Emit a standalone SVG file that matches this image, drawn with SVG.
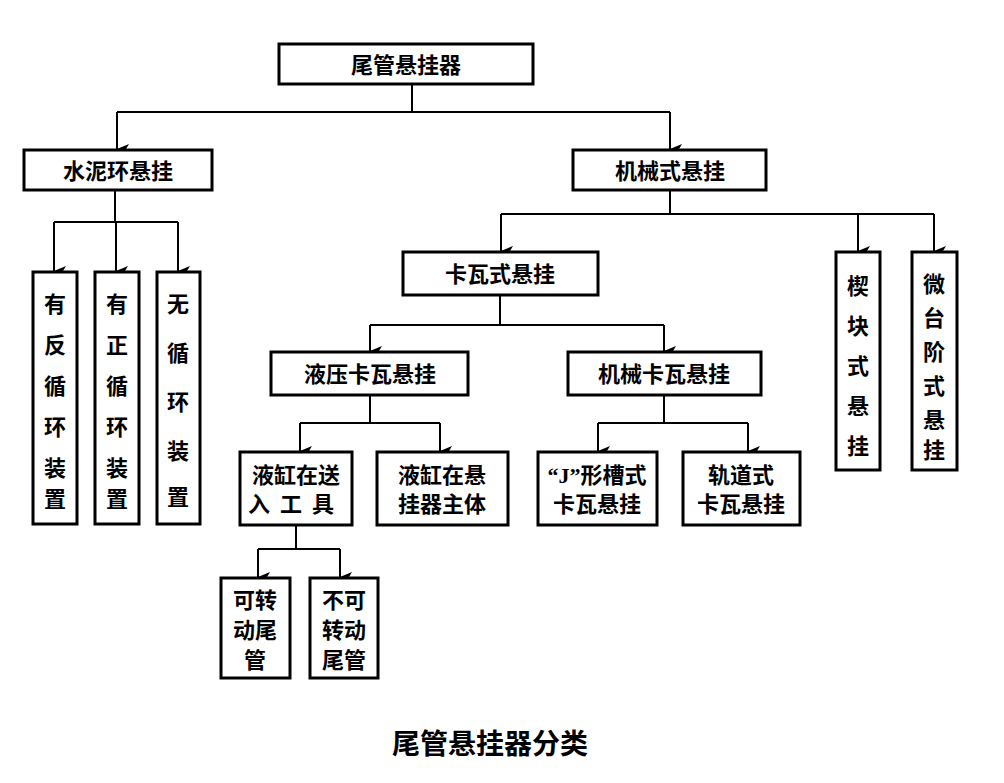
<svg xmlns="http://www.w3.org/2000/svg" width="1004" height="783" viewBox="0 0 1004 783">
<style>
.b{fill:#fff;stroke:#000;stroke-width:3}
.t{font-family:"Noto Sans CJK SC","Liberation Sans",sans-serif;font-weight:bold;font-size:22px;fill:#000;text-anchor:middle}
.c{fill:none;stroke:#000;stroke-width:2}
.q{font-family:"Liberation Serif",serif}
</style>
<defs><marker id="a" markerWidth="10" markerHeight="12" refX="5" refY="12" orient="auto-start-reverse" markerUnits="userSpaceOnUse" viewBox="0 0 10 12"><path d="M0,0L5,12L10,0L5,3Z" fill="#000"/></marker></defs>
<rect width="1004" height="783" fill="#fff"/>
<g id="connectors">
<path class="c" d="M412,84V112M117,112H670"/>
<path class="c" d="M117,112V149" marker-end="url(#a)"/><path class="c" d="M670,112V149" marker-end="url(#a)"/>
<path class="c" d="M115,190V222M54,222H178"/>
<path class="c" d="M54,222V271" marker-end="url(#a)"/><path class="c" d="M116,222V271" marker-end="url(#a)"/><path class="c" d="M178,222V271" marker-end="url(#a)"/>
<path class="c" d="M670,190V214M501,214H934"/>
<path class="c" d="M501,214V251" marker-end="url(#a)"/><path class="c" d="M858,214V251" marker-end="url(#a)"/><path class="c" d="M934,214V251" marker-end="url(#a)"/>
<path class="c" d="M500,295V325M370,325H664"/>
<path class="c" d="M370,325V351" marker-end="url(#a)"/><path class="c" d="M664,325V351" marker-end="url(#a)"/>
<path class="c" d="M370,395V423M300,423H440"/>
<path class="c" d="M300,423V451" marker-end="url(#a)"/><path class="c" d="M440,423V451" marker-end="url(#a)"/>
<path class="c" d="M664,395V423M598,423H748"/>
<path class="c" d="M598,423V451" marker-end="url(#a)"/><path class="c" d="M748,423V451" marker-end="url(#a)"/>
<path class="c" d="M296,525V549M258,549H340"/>
<path class="c" d="M258,549V577" marker-end="url(#a)"/><path class="c" d="M340,549V577" marker-end="url(#a)"/>
</g>
<g id="root"><rect class="b" x="279" y="44" width="254" height="40"/><text class="t" x="406" y="73">尾管悬挂器</text></g>
<g id="n1"><rect class="b" x="24" y="150" width="188" height="40"/><text class="t" x="118" y="179">水泥环悬挂</text></g>
<g id="n2"><rect class="b" x="573" y="150" width="193" height="40"/><text class="t" x="670" y="179">机械式悬挂</text></g>
<g id="n3"><rect class="b" x="33" y="272" width="44" height="252"/><text class="t" x="55" y="312">有</text><text class="t" x="55" y="353">反</text><text class="t" x="55" y="394">循</text><text class="t" x="55" y="435">环</text><text class="t" x="55" y="476">装</text><text class="t" x="55" y="507">置</text></g>
<g id="n4"><rect class="b" x="95" y="272" width="44" height="252"/><text class="t" x="117" y="312">有</text><text class="t" x="117" y="353">正</text><text class="t" x="117" y="394">循</text><text class="t" x="117" y="435">环</text><text class="t" x="117" y="476">装</text><text class="t" x="117" y="507">置</text></g>
<g id="n5"><rect class="b" x="157" y="272" width="43" height="252"/><text class="t" x="178" y="312">无</text><text class="t" x="178" y="361">循</text><text class="t" x="178" y="410">环</text><text class="t" x="178" y="459">装</text><text class="t" x="178" y="505">置</text></g>
<g id="n6"><rect class="b" x="403" y="252" width="195" height="43"/><text class="t" x="500" y="282">卡瓦式悬挂</text></g>
<g id="n7"><rect class="b" x="836" y="252" width="44" height="218"/><text class="t" x="858" y="294">楔</text><text class="t" x="858" y="334">块</text><text class="t" x="858" y="374">式</text><text class="t" x="858" y="414">悬</text><text class="t" x="858" y="454">挂</text></g>
<g id="n8"><rect class="b" x="912" y="252" width="45" height="218"/><text class="t" x="934" y="292">微</text><text class="t" x="934" y="326">台</text><text class="t" x="934" y="360">阶</text><text class="t" x="934" y="394">式</text><text class="t" x="934" y="428">悬</text><text class="t" x="934" y="458">挂</text></g>
<g id="n9"><rect class="b" x="271" y="352" width="197" height="43"/><text class="t" x="370" y="382">液压卡瓦悬挂</text></g>
<g id="n10"><rect class="b" x="568" y="352" width="193" height="43"/><text class="t" x="664" y="382">机械卡瓦悬挂</text></g>
<g id="n11"><rect class="b" x="240" y="452" width="112" height="73"/><text class="t" x="296" y="483">液缸在送</text><text class="t" x="296" y="512" style="letter-spacing:10px">入工具</text></g>
<g id="n12"><rect class="b" x="377" y="452" width="131" height="73"/><text class="t" x="442" y="483">液缸在悬</text><text class="t" x="442" y="512">挂器主体</text></g>
<g id="n13"><rect class="b" x="538" y="452" width="119" height="73"/><text class="t" x="597" y="483"><tspan class="q">“J”</tspan>形槽式</text><text class="t" x="597" y="512">卡瓦悬挂</text></g>
<g id="n14"><rect class="b" x="683" y="452" width="117" height="73"/><text class="t" x="741" y="483">轨道式</text><text class="t" x="741" y="512">卡瓦悬挂</text></g>
<g id="n15"><rect class="b" x="221" y="578" width="69" height="100"/><text class="t" x="255" y="608">可转</text><text class="t" x="255" y="638">动尾</text><text class="t" x="255" y="668">管</text></g>
<g id="n16"><rect class="b" x="310" y="578" width="68" height="100"/><text class="t" x="344" y="608">不可</text><text class="t" x="344" y="638">转动</text><text class="t" x="344" y="668">尾管</text></g>
<text class="t" x="490" y="754" style="font-size:28px">尾管悬挂器分类</text>
</svg>
